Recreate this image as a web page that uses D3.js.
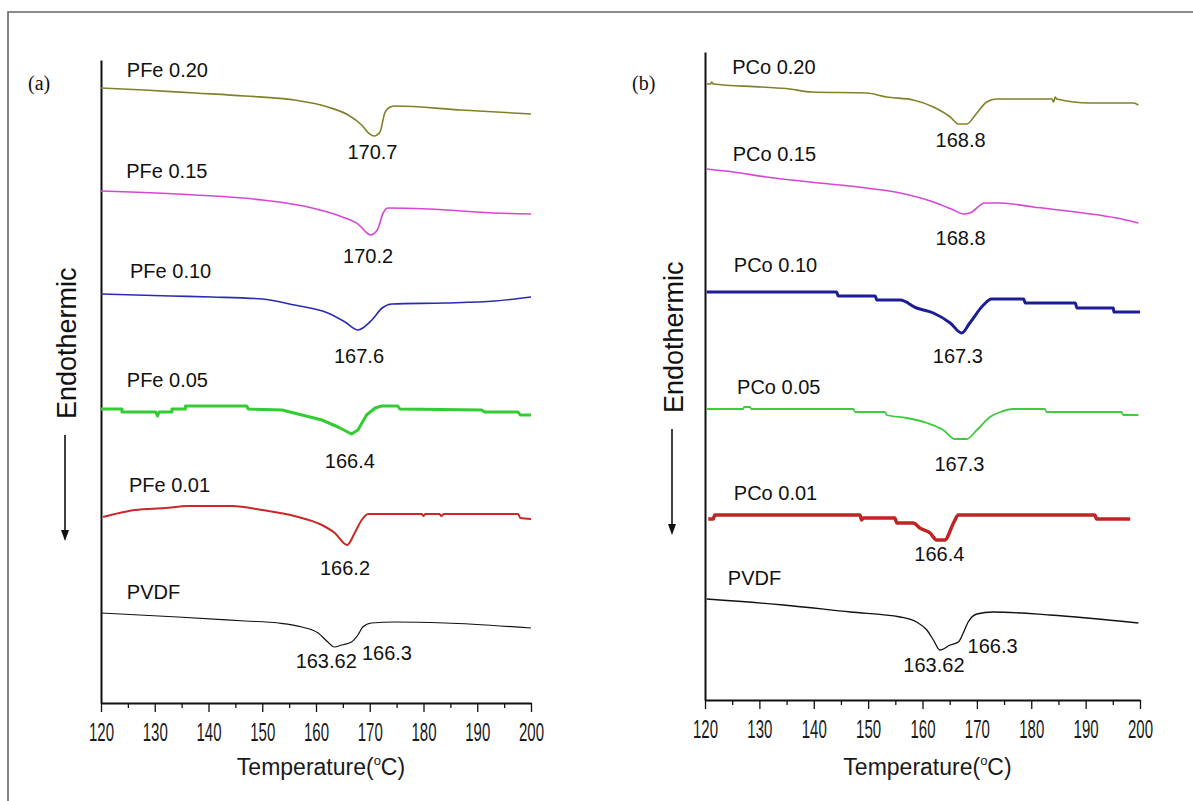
<!DOCTYPE html>
<html><head><meta charset="utf-8">
<script src="https://cdn.jsdelivr.net/npm/d3@7"></script>
<style>body{margin:0;background:#fff}svg{display:block}</style>
</head><body>
<svg id="chart" width="1193" height="801"></svg>
<script>
// ---------- data ----------
const xTicks = [120,130,140,150,160,170,180,190,200];
const xMinorTicks = [125,135,145,155,165,175,185,195];
const xDomain = [120,200];

const seriesNamesA = ["PFe 0.20","PFe 0.15","PFe 0.10","PFe 0.05","PFe 0.01","PVDF"];
const seriesNamesB = ["PCo 0.20","PCo 0.15","PCo 0.10","PCo 0.05","PCo 0.01","PVDF"];
const seriesColors = ["#80802a","#d844d8","#2a2ab4","#33cc33","#c82828","#111111"];
const seriesColorsB = ["#80802a","#d844d8","#1c1c96","#3ccc3c","#c02424","#111111"];
const strokeWidthsA = [1.6,1.6,1.6,3,2,1.2];
const strokeWidthsB = [1.6,1.6,3,1.8,3.5,1.3];

// [temperature (°C), heat flow (a.u., offset)]
const pfe020 = [[120,61.5],[128,61.3],[137.5,61.0],[146.8,60.7],[156,60.3],[162.2,59.6],[166,58.8],[168.5,57.8],[170,56.9],[170.8,56.7],[171.9,57.1],[172.8,59.0],[173.8,59.6],[174.7,59.7],[187,59.3],[200,58.9]];
const pfe015 = [[120,51.2],[137.5,50.8],[150,50.3],[159.3,49.5],[164.9,48.6],[168,47.8],[169.5,47.0],[170.1,46.8],[171.4,47.3],[172.5,49.0],[173.4,49.5],[180.9,49.4],[193.3,49.0],[200,48.9]];
const pfe010 = [[120,40.9],[133,40.7],[140.6,40.6],[150,40.4],[156,39.8],[162.2,39.0],[165.4,38.1],[167.8,37.3],[170.4,38.3],[172.3,39.5],[174.1,39.9],[184,40.0],[193.3,40.2],[200,40.6]];
const pfe005 = [[120,29.4],[123.9,29.4],[123.9,29.1],[130.2,29.1],[130.5,28.7],[130.8,29.1],[133.2,29.1],[133.2,29.4],[135.7,29.4],[135.7,29.7],[147.1,29.7],[147.4,29.4],[153.7,29.3],[157.4,28.8],[161.1,28.3],[164.1,27.6],[166.6,26.9],[167.8,27.3],[169.4,28.8],[171,29.5],[172.2,29.7],[175.2,29.7],[175.6,29.4],[190.8,29.3],[191.4,29.1],[197.6,29.1],[198,28.8],[200,28.8]];
const pfe001 = [[120.4,18.6],[122.6,18.9],[126.3,19.3],[131.9,19.5],[136.2,19.7],[144.4,19.7],[150,19.3],[156,18.7],[161.1,17.8],[163.5,17.0],[165.8,15.8],[167.2,17.0],[168.5,18.3],[169.7,18.9],[179.7,18.9],[180,18.7],[180.3,18.9],[183,18.9],[183.3,18.7],[183.8,18.9],[197.6,18.9],[198,18.5],[200,18.4]];
const pvdfA = [[120,9.0],[134.3,8.6],[146.8,8.2],[153,8.0],[157.4,7.6],[160.4,7.0],[162.2,6.1],[163.4,5.6],[164.8,5.8],[166.6,6.1],[167.8,6.8],[168.7,7.6],[170.3,8.0],[174.7,8.1],[184,8.0],[200,7.5]];

const pco020 = [[120.3,61.6],[121,61.6],[121.2,61.8],[121.5,61.6],[130.4,61.3],[135.6,61.1],[139.6,60.8],[149.7,60.7],[153.4,60.3],[158.3,60.0],[162,59.3],[165.1,58.3],[166.6,57.6],[168.1,57.6],[170,58.7],[171.8,59.8],[173.6,60.1],[183.8,60.1],[184.1,59.8],[184.4,60.3],[184.7,60.1],[190.8,59.7],[198.8,59.7],[199.7,59.5]];
const pco015 = [[120.3,53.1],[125.2,52.8],[131.3,52.3],[139.3,51.8],[149.7,51.2],[155.9,50.7],[162,49.8],[165.7,49.0],[167.5,48.6],[168.7,48.7],[171.5,49.7],[174.3,49.7],[180.4,49.3],[189.6,48.7],[195.7,48.2],[199.7,47.7]];
const pco010 = [[120.3,40.8],[144.2,40.8],[144.5,40.4],[151.3,40.4],[151.6,40.0],[155.9,40.0],[158.9,39.2],[162,38.7],[165.1,37.7],[167.2,36.7],[168.7,37.7],[171.2,39.5],[172.7,40.1],[178.6,40.1],[178.9,39.7],[188.1,39.7],[188.4,39.2],[195.1,39.2],[195.2,38.8],[200,38.8]];
const pco005 = [[120.3,29.1],[127,29.1],[127.2,29.3],[128.3,29.3],[128.5,29.1],[147.3,29.1],[147.6,28.8],[153.1,28.8],[153.4,28.5],[157.1,28.2],[160.8,27.7],[163.8,27.0],[166,26.1],[168.1,26.1],[170,27.0],[172.4,28.3],[174.3,28.8],[176.7,29.1],[182.5,29.1],[182.8,28.8],[196.6,28.8],[196.9,28.5],[199.7,28.5]];
const pco001 = [[120.6,18.1],[121.5,18.1],[121.8,18.5],[148.5,18.5],[148.8,18.0],[149.1,18.2],[154.9,18.2],[155.3,17.7],[158.3,17.7],[159.5,17.2],[161.4,16.7],[162.6,16.0],[164.1,16.0],[165.7,17.7],[166.6,18.5],[191.7,18.5],[192,18.1],[198.2,18.1]];
const pvdfB = [[120.3,10.1],[134.4,9.5],[146.7,8.8],[155.9,8.3],[158.9,7.8],[160.8,7.0],[162,6.0],[163.2,5.0],[165.1,5.5],[166.6,5.8],[167.5,6.7],[168.4,7.8],[170,8.6],[173,8.8],[183.4,8.5],[199.7,7.7]];

// series-name label anchor (T, value)
const nameLabelTA = [124.8,124.7,125.4,124.8,125.2,124.8];
const nameLabelVA = [62.6,52.5,42.5,31.6,21.1,10.4];
const nameLabelTB = [125.0,125.1,125.3,125.9,125.3,124.2];
const nameLabelVB = [62.6,53.9,42.8,30.6,20.0,11.5];

// peak temperature labels
const peakTextA = ["170.7","170.2","167.6","166.4","166.2","163.62","166.3"];
const peakTA = [170.5,169.7,168.0,166.3,165.4,161.9,173.2];
const peakVA = [54.4,44.0,34.0,23.5,12.8,3.5,4.3];
const peakTextB = ["168.8","168.8","167.3","167.3","166.4","163.62","166.3"];
const peakTB = [167.0,167.0,166.5,166.8,163.1,162.1,172.9];
const peakVB = [55.3,45.5,33.7,22.9,13.9,2.8,4.7];

// ---------- drawing ----------
const svg = d3.select("#chart");
svg.append("path").attr("d","M8,801V12H1193").attr("fill","none").attr("stroke","#666").attr("stroke-width",1.6);

const panels = [
  {tag:"(a)", xr:[101,531], yr:[703,60], yd:[0,64.3], series:[pfe020,pfe015,pfe010,pfe005,pfe001,pvdfA],
   names:seriesNamesA, colors:seriesColors, widths:strokeWidthsA, nT:nameLabelTA, nV:nameLabelVA,
   pText:peakTextA, pT:peakTA, pV:peakVA, endoX:76, arrowX:65, arrowY:[435,541]},
  {tag:"(b)", xr:[705,1140], yr:[700,52], yd:[0,64.8], series:[pco020,pco015,pco010,pco005,pco001,pvdfB],
   names:seriesNamesB, colors:seriesColorsB, widths:strokeWidthsB, nT:nameLabelTB, nV:nameLabelVB,
   pText:peakTextB, pT:peakTB, pV:peakVB, endoX:683, arrowX:672, arrowY:[429,535]}
];

const labelFont = "'Liberation Sans', Arial, sans-serif";

function hasDuplicateX(s){ for(let i=1;i<s.length;i++) if(s[i][0]<=s[i-1][0]) return true; return false; }

panels.forEach(p => {
  const x = d3.scaleLinear().domain(xDomain).range(p.xr);
  const y = d3.scaleLinear().domain(p.yd).range(p.yr);
  const g = svg.append("g");
  const axisY = p.yr[0];

  // minor ticks
  g.append("g").attr("transform",`translate(0,${axisY})`)
    .call(d3.axisBottom(x).tickValues(xMinorTicks).tickSize(5).tickFormat("").tickSizeOuter(0))
    .call(a => a.select(".domain").remove())
    .selectAll("line").attr("stroke","#111").attr("stroke-width",1.3);
  // major ticks
  const ax = g.append("g").attr("transform",`translate(0,${axisY})`)
    .call(d3.axisBottom(x).tickValues(xTicks).tickSize(9).tickSizeOuter(0).tickFormat(d3.format("d")));
  ax.select(".domain").attr("stroke","#111").attr("stroke-width",2);
  ax.selectAll(".tick line").attr("stroke","#111").attr("stroke-width",1.3);
  ax.selectAll(".tick text").attr("y",38).attr("dy",0)
    .attr("font-family",labelFont).attr("font-size",25).attr("fill","#1a1a1a")
    .attr("transform","scale(0.6,1)");

  // y axis line
  g.append("g").attr("transform",`translate(${p.xr[0]},0)`)
    .call(d3.axisLeft(y).tickValues([]).tickSizeOuter(0))
    .select(".domain").attr("stroke","#111").attr("stroke-width",2);

  // x title
  const t = g.append("text").attr("x",(p.xr[0]+p.xr[1])/2 + 5).attr("y",775)
    .attr("text-anchor","middle").attr("font-family",labelFont).attr("font-size",23).attr("fill","#1a1a1a");
  t.append("tspan").text("Temperature(");
  t.append("tspan").text("o").attr("font-size",13).attr("dy",-10);
  t.append("tspan").text("C)").attr("dy",10);

  // Endothermic
  g.append("text").attr("transform",`translate(${p.endoX},${p.arrowY[0]-16}) rotate(-90)`)
    .attr("font-family",labelFont).attr("font-size",27).attr("fill","#111").text("Endothermic");
  // arrow
  g.append("line").attr("x1",p.arrowX).attr("x2",p.arrowX).attr("y1",p.arrowY[0]).attr("y2",p.arrowY[1]-8)
    .attr("stroke","#111").attr("stroke-width",1.6);
  g.append("path").attr("d",`M${p.arrowX-4},${p.arrowY[1]-11}L${p.arrowX+4},${p.arrowY[1]-11}L${p.arrowX},${p.arrowY[1]}Z`).attr("fill","#111");

  // panel tag
  g.append("text").attr("x",p.xr[0]-73).attr("y",90).attr("font-family","'Liberation Serif','Times New Roman',serif")
    .attr("font-size",20).attr("fill","#111").text(p.tag);

  // curves
  p.series.forEach((s,i) => {
    const line = d3.line().x(d => x(d[0])).y(d => y(d[1]))
      .curve(hasDuplicateX(s) ? d3.curveLinear : d3.curveMonotoneX);
    g.append("path").datum(s).attr("d",line).attr("fill","none")
      .attr("stroke",p.colors[i]).attr("stroke-width",p.widths[i]).attr("stroke-linejoin","round");
    g.append("text").attr("x",x(p.nT[i])).attr("y",y(p.nV[i]))
      .attr("font-family",labelFont).attr("font-size",20).attr("fill","#111").text(p.names[i]);
  });
  p.pText.forEach((txt,i) => {
    g.append("text").attr("x",x(p.pT[i])).attr("y",y(p.pV[i])).attr("text-anchor","middle")
      .attr("font-family",labelFont).attr("font-size",20).attr("fill","#111").text(txt);
  });
});
</script>
</body></html>
